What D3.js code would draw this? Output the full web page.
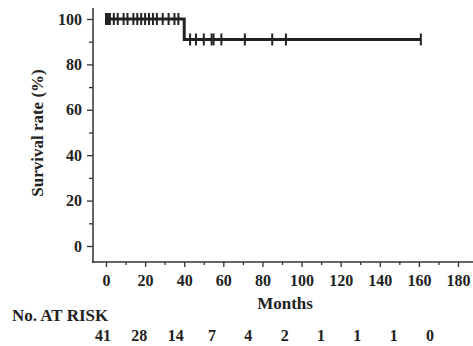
<!DOCTYPE html>
<html>
<head>
<meta charset="utf-8">
<script src="https://cdn.jsdelivr.net/npm/d3@7"></script>
<style>
  body { margin: 0; background: #fff; }
  svg text { font-family: "Liberation Serif", "DejaVu Serif", serif; font-weight: bold; fill: #222; }
  .axis path, .axis line { stroke: #333; }
</style>
</head>
<body>
<div id="chart"></div>
<script>
// survival curve steps: [month, survival %]
const stepMonths = [0, 40, 161];
const stepSurvival = [100, 91, 91];
// censored observations (months)
const censorMonths = [0, 1, 2, 4, 6, 9, 11, 14, 16, 18, 20, 22, 24, 26, 29, 32, 35, 37,
  43, 46, 50, 54, 55, 59, 71, 85, 92, 161];
const xTicks = [0, 20, 40, 60, 80, 100, 120, 140, 160, 180];
const yTicks = [0, 20, 40, 60, 80, 100];
const atRisk = [41, 28, 14, 7, 4, 2, 1, 1, 1, 0];

const width = 473, height = 346;
const svg = d3.select('#chart').append('svg')
  .attr('width', width)
  .attr('height', height);

// scales
const x = d3.scaleLinear().domain([0, 180]).range([106, 458]);
const y = d3.scaleLinear().domain([0, 100]).range([246, 19]);

// survival value at a given month
const survAt = m => {
  let s = stepSurvival[0];
  stepMonths.forEach((sm, i) => { if (m >= sm) s = stepSurvival[i]; });
  return s;
};

// y axis
const yAxis = svg.append('g')
  .attr('class', 'axis')
  .attr('transform', 'translate(93,0)')
  .call(d3.axisLeft(y).tickValues(d3.range(0, 101, 10)).tickSize(6).tickSizeOuter(0)
    .tickFormat(d => yTicks.includes(d) ? d : ''));
yAxis.select('.domain').remove();
yAxis.selectAll('.tick line').attr('stroke-width', 1.3)
  .attr('x2', d => yTicks.includes(d) ? -6 : -4);
yAxis.selectAll('.tick text').attr('x', -11).style('font-size', '16px');
svg.append('line').attr('x1', 93).attr('x2', 93).attr('y1', 8).attr('y2', 263)
  .attr('stroke', '#333').attr('stroke-width', 1.5);

// x axis
const xAxis = svg.append('g')
  .attr('class', 'axis')
  .attr('transform', 'translate(0,262)')
  .call(d3.axisBottom(x).tickValues(d3.range(0, 181, 10)).tickSize(5).tickSizeOuter(0)
    .tickFormat(d => xTicks.includes(d) ? d : ''));
xAxis.select('.domain').remove();
xAxis.selectAll('.tick line').attr('stroke-width', 1.3)
  .attr('y2', d => xTicks.includes(d) ? 5 : 3);
xAxis.selectAll('.tick text').attr('y', 13).style('font-size', '16px');
svg.append('line').attr('x1', 92).attr('x2', 473).attr('y1', 262).attr('y2', 262)
  .attr('stroke', '#333').attr('stroke-width', 1.5);

// axis titles
svg.append('text')
  .attr('transform', 'translate(43,133) rotate(-90)')
  .attr('text-anchor', 'middle')
  .style('font-size', '17px')
  .text('Survival rate (%)');
svg.append('text')
  .attr('x', 285).attr('y', 309)
  .attr('text-anchor', 'middle')
  .style('font-size', '17px')
  .text('Months');

// survival step line
const line = d3.line()
  .x(d => x(d[0]))
  .y(d => y(d[1]))
  .curve(d3.curveStepAfter);
svg.append('path')
  .datum(stepMonths.map((m, i) => [m, stepSurvival[i]]))
  .attr('d', line)
  .attr('fill', 'none')
  .attr('stroke', '#222')
  .attr('stroke-width', 3);

// censor marks
svg.append('g').selectAll('line')
  .data(censorMonths)
  .enter()
  .append('line')
  .attr('x1', d => x(d)).attr('x2', d => x(d))
  .attr('y1', d => y(survAt(d)) - 6)
  .attr('y2', d => y(survAt(d)) + 6)
  .attr('stroke', '#222')
  .attr('stroke-width', 2);

// number at risk table
svg.append('text')
  .attr('x', 12).attr('y', 321)
  .style('font-size', '17px')
  .text('No. AT RISK');
const riskX = d3.scalePoint().domain(d3.range(atRisk.length)).range([103, 430]);
svg.append('g').selectAll('text')
  .data(atRisk)
  .enter()
  .append('text')
  .attr('x', (d, i) => riskX(i))
  .attr('y', 341)
  .attr('text-anchor', 'middle')
  .style('font-size', '16px')
  .text(d => d);
</script>
</body>
</html>
